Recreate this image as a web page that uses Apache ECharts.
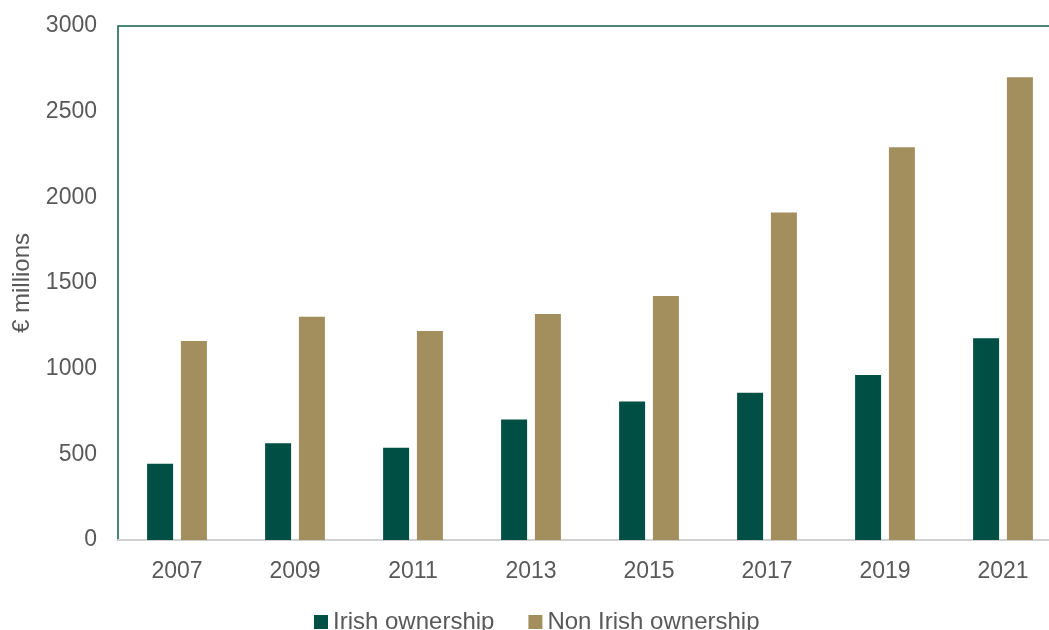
<!DOCTYPE html>
<html>
<head>
<meta charset="utf-8">
<script src="https://cdn.jsdelivr.net/npm/echarts@6/dist/echarts.min.js"></script>
<style>
  html, body { margin: 0; padding: 0; background: #ffffff; overflow: hidden; }
  /* the plot runs past the right edge of the window, so the canvas is wider than the view */
  #chart { width: 1075px; height: 630px; }
</style>
</head>
<body>
<div id="chart"></div>
<script>
// Years on the category axis
const years = ['2007', '2009', '2011', '2013', '2015', '2017', '2019', '2021'];
// Values in € millions
const irishOwnership = [445, 565, 539, 704, 809, 860, 963, 1177];
const nonIrishOwnership = [1161, 1303, 1220, 1319, 1424, 1912, 2292, 2701];
// Value axis ticks
const yMin = 0;
const yMax = 3000;
const yStep = 500;

const textColor = '#595959';
const fontFamily = '"Liberation Sans", Arial, sans-serif';

const chart = echarts.init(document.getElementById('chart'), null, { renderer: 'canvas' });
chart.setOption({
  animation: false,
  backgroundColor: '#ffffff',
  textStyle: { fontFamily: fontFamily },
  grid: {
    left: 118, top: 26, right: 13, bottom: 90,
    show: true,
    borderColor: '#0f5c50',
    borderWidth: 1.5,
    backgroundColor: 'transparent'
  },
  legend: {
    top: 605,
    left: 309,
    itemWidth: 14,
    itemHeight: 14,
    itemGap: 34,
    icon: 'rect',
    textStyle: { color: textColor, fontSize: 24, fontFamily: fontFamily },
    data: ['Irish ownership', 'Non Irish ownership']
  },
  xAxis: {
    type: 'category',
    data: years,
    axisLine: { show: true, lineStyle: { color: '#d0d0d0', width: 2 } },
    axisTick: { show: false },
    axisLabel: { color: textColor, fontSize: 23, margin: 20, fontFamily: fontFamily }
  },
  yAxis: {
    type: 'value',
    min: yMin,
    max: yMax,
    interval: yStep,
    name: '€ millions',
    nameLocation: 'middle',
    nameGap: 84,
    nameRotate: 90,
    nameTextStyle: { color: textColor, fontSize: 24, fontFamily: fontFamily },
    axisLine: { show: false },
    axisTick: { show: false },
    splitLine: { show: false },
    axisLabel: {
      color: textColor, fontSize: 23, margin: 21, fontFamily: fontFamily,
      formatter: function (v) { return String(v); }
    }
  },
  series: [
    {
      name: 'Irish ownership',
      type: 'bar',
      data: irishOwnership,
      barWidth: 26,
      barGap: '30%',
      itemStyle: { color: '#004f44' }
    },
    {
      name: 'Non Irish ownership',
      type: 'bar',
      data: nonIrishOwnership,
      barWidth: 26,
      barGap: '30%',
      itemStyle: { color: '#a38f5e' }
    }
  ]
});
</script>
</body>
</html>
